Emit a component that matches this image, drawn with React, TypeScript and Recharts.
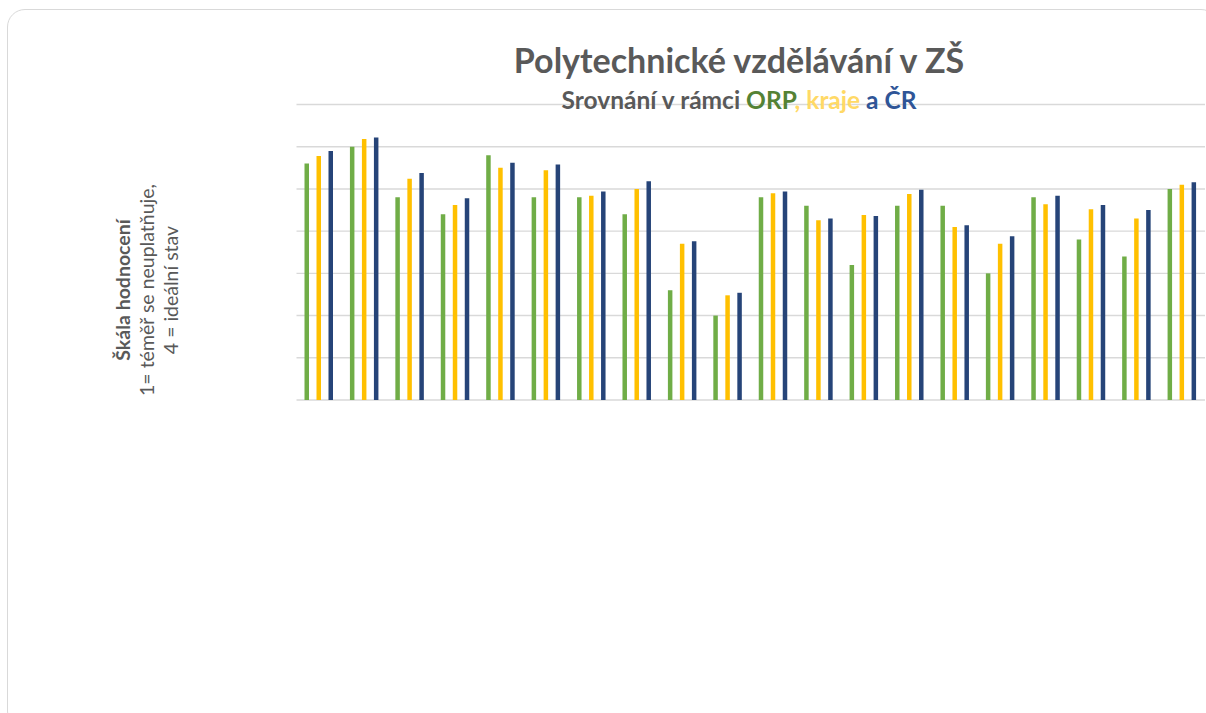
import React from 'react';
import { BarChart, Bar, XAxis, YAxis, CartesianGrid } from 'recharts';

// 20 hodnocených oblastí (popisky osy X nejsou v grafu zobrazeny)
const categories = [
  '1', '2', '3', '4', '5', '6', '7', '8', '9', '10',
  '11', '12', '13', '14', '15', '16', '17', '18', '19', '20',
];

// hodnoty posunuté o 0,5 kvůli ose 0–3,5 (čtené z grafu)
const orp = [2.8, 3.0, 2.4, 2.2, 2.9, 2.4, 2.4, 2.2, 1.3, 1.0, 2.4, 2.3, 1.6, 2.3, 2.3, 1.5, 2.4, 1.9, 1.7, 2.5];
const kraj = [2.89, 3.09, 2.62, 2.31, 2.75, 2.72, 2.42, 2.5, 1.85, 1.24, 2.45, 2.13, 2.19, 2.44, 2.05, 1.85, 2.32, 2.26, 2.15, 2.55];
const cr = [2.95, 3.11, 2.69, 2.39, 2.81, 2.79, 2.47, 2.59, 1.88, 1.27, 2.47, 2.15, 2.18, 2.49, 2.07, 1.94, 2.42, 2.31, 2.25, 2.58];

const yTicks = [0, 0.5, 1, 1.5, 2, 2.5, 3, 3.5];

const data = categories.map((name, i) => ({
  name,
  orp: orp[i],
  kraj: kraj[i],
  cr: cr[i],
}));

const GREEN = '#70AD47';
const YELLOW = '#FFC000';
const BLUE = '#264478';
const GRAY = '#595959';

export default function App() {
  return (
    <div
      style={{
        position: 'fixed',
        left: 0,
        top: 0,
        width: 1206,
        height: 713,
        overflow: 'hidden',
        background: '#fff',
        fontFamily: 'Lato, "Noto Sans", sans-serif',
      }}
    >
      {/* rámeček karty */}
      <div
        style={{
          position: 'absolute',
          left: 7,
          top: 9,
          width: 1212,
          height: 720,
          border: '1.5px solid #D9D9D9',
          borderRadius: 18,
          boxSizing: 'border-box',
        }}
      />

      <div style={{ position: 'absolute', left: 0, top: 0 }}>
        <BarChart
          width={1206}
          height={713}
          data={data}
          margin={{ top: 104.5, right: 1, bottom: 313, left: 296.5 }}
          barSize={4.5}
          barGap={7.5}
        >
          <CartesianGrid vertical={false} stroke="#D9D9D9" strokeWidth={1.4} />
          <XAxis dataKey="name" hide />
          <YAxis hide width={0} domain={[0, 3.5]} ticks={yTicks} />
          <Bar dataKey="orp" fill={GREEN} isAnimationActive={false} />
          <Bar dataKey="kraj" fill={YELLOW} isAnimationActive={false} />
          <Bar dataKey="cr" fill={BLUE} isAnimationActive={false} />
        </BarChart>
      </div>

      {/* nadpis */}
      <div
        style={{
          position: 'absolute',
          left: 339,
          width: 800,
          top: 60,
          transform: 'translateY(-50%)',
          textAlign: 'center',
          fontSize: 34,
          fontWeight: 700,
          color: GRAY,
          lineHeight: '40px',
        }}
      >
        Polytechnické vzdělávání v ZŠ
      </div>
      <div
        style={{
          position: 'absolute',
          left: 339,
          width: 800,
          top: 100,
          transform: 'translateY(-50%)',
          textAlign: 'center',
          fontSize: 24.5,
          fontWeight: 700,
          color: GRAY,
          lineHeight: '28px',
        }}
      >
        Srovnání v rámci <span style={{ color: '#548235' }}>ORP</span>
        <span style={{ color: '#FFD966' }}>, kraje</span>
        <span style={{ color: '#2F5597' }}> a ČR</span>
      </div>

      {/* popisek osy Y */}
      <div
        style={{
          position: 'absolute',
          left: 147,
          top: 290,
          width: 320,
          transform: 'translate(-50%, -50%) rotate(-90deg)',
          textAlign: 'center',
          fontSize: 19.5,
          color: GRAY,
          lineHeight: '24px',
        }}
      >
        <div style={{ fontWeight: 700 }}>Škála hodnocení</div>
        <div>1= téměř se neuplatňuje,</div>
        <div>4 = ideální stav</div>
      </div>
    </div>
  );
}
